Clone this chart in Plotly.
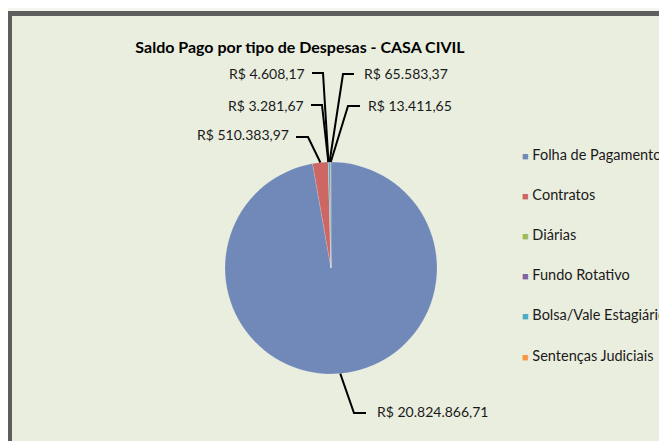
import math
import plotly.graph_objects as go

# ---- data ----
categories = ["Folha de Pagamento", "Contratos", "Diárias", "Fundo Rotativo",
              "Bolsa/Vale Estagiário", "Sentenças Judiciais"]
values = [20824866.71, 510383.97, 3281.67, 4608.17, 65583.37, 13411.65]
colors = ["#7189b8", "#cc6764", "#9bbb59", "#8064a2", "#4bacc6", "#f79646"]
title_text = "Saldo Pago por tipo de Despesas - CASA CIVIL"

OFF = 8  # page body margin offset
W, H = 667 - OFF, 441 - OFF


def brl(v):
    s = f"{v:,.2f}"
    s = s.replace(",", "X").replace(".", ",").replace("X", ".")
    return "R$ " + s


def fx(x):
    return (x - OFF) / W


def fy(y):
    return 1 - (y - OFF) / H


fig = go.Figure()

# pie geometry (pixels in the screenshot)
cx, cy, r = 331, 268, 106
fig.add_trace(go.Pie(
    labels=categories, values=values, sort=False, direction="clockwise",
    rotation=0, textinfo="none", hoverinfo="label+value+percent",
    marker=dict(colors=colors, line=dict(color="rgba(255,255,255,0.3)", width=0.5)),
    domain=dict(x=[fx(cx - r), fx(cx + r)], y=[fy(cy + r), fy(cy - r)]),
    showlegend=False,
))

# slice mid-angles (clockwise from top) -> leader line tips on the pie edge
total = sum(values)
tips = {}
acc = 0.0
for cat, v in zip(categories, values):
    mid = (acc + v / 2) / total * 2 * math.pi
    acc += v
    tips[cat] = (cx + r * math.sin(mid), cy - r * math.cos(mid))

# label layout: (text anchor x, text y, side, elbow start x, elbow end x, elbow y)
label_layout = {
    "Fundo Rotativo": (307, 73, "right", 312, 323, 73),
    "Diárias": (306, 105, "right", 311, 322, 105),
    "Contratos": (291, 135, "right", 296, 308, 137),
    "Bolsa/Vale Estagiário": (362, 73, "left", 354, 343, 74),
    "Sentenças Judiciais": (366, 105, "left", 360, 348, 106),
    "Folha de Pagamento": (375, 411, "left", 366, 354, 413),
}

label_font = dict(family="Lato, Open Sans, sans-serif", size=14, color="#1a1a1a")
annotations = []
shapes = [dict(
    type="rect", xref="paper", yref="paper",
    x0=fx(9.5), x1=1.05, y0=-0.05, y1=fy(13.5),
    line=dict(color="#5e5e5e", width=5), fillcolor="#eaeedf", layer="below",
)]

for cat, val in zip(categories, values):
    tx, ty, side, ex0, ex1, ey = label_layout[cat]
    annotations.append(dict(
        x=fx(tx), y=fy(ty), xref="paper", yref="paper",
        xanchor="right" if side == "right" else "left", yanchor="middle",
        text=brl(val), showarrow=False, font=label_font,
    ))
    px_, py_ = tips[cat]
    path = (f"M {fx(ex0)},{fy(ey)} L {fx(ex1)},{fy(ey)} "
            f"L {fx(px_)},{fy(py_)}")
    shapes.append(dict(type="path", xref="paper", yref="paper", path=path,
                       line=dict(color="#000000", width=2), layer="above"))

# legend as annotations
leg_y0, leg_gap = 154, 40.2
for i, (cat, col) in enumerate(zip(categories, colors)):
    annotations.append(dict(
        x=fx(520), y=fy(leg_y0 + i * leg_gap), xref="paper", yref="paper",
        xanchor="left", yanchor="middle", showarrow=False,
        text=f'<span style="color:{col};font-size:11px">■</span> {cat}',
        font=dict(family="Lato, Open Sans, sans-serif", size=14.5, color="#1a1a1a"),
    ))

fig.update_layout(
    width=W, height=H,
    margin=dict(l=0, r=0, t=0, b=0),
    paper_bgcolor="#f3f6ee", plot_bgcolor="#f3f6ee",
    title=dict(text=f"<b>{title_text}</b>", x=fx(300), y=fy(47),
               xanchor="center", yanchor="middle",
               font=dict(family="Lato, Open Sans, sans-serif", size=16, color="#000000")),
    annotations=annotations, shapes=shapes,
    showlegend=False,
)

fig.write_html("out.html")
